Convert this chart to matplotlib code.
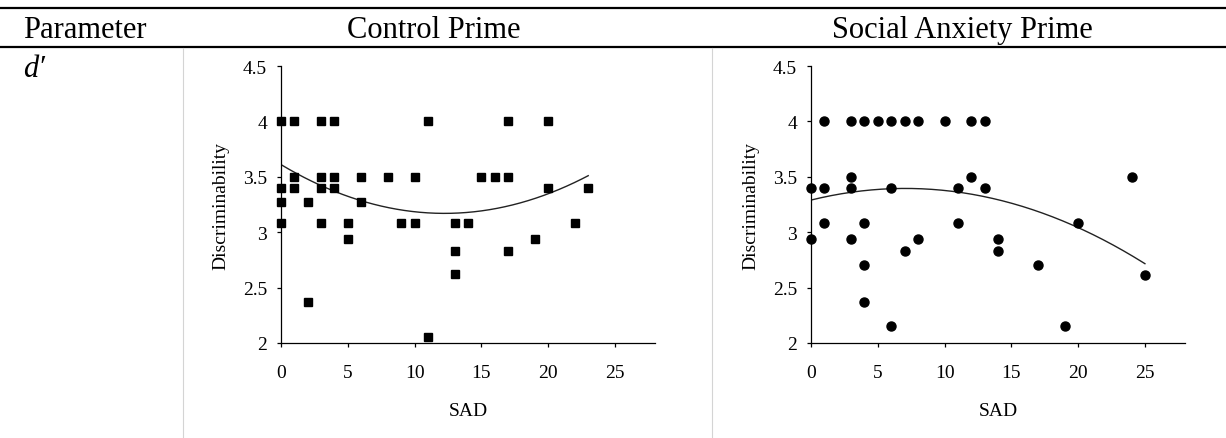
import numpy as np
import matplotlib
matplotlib.use('Agg')
import matplotlib.pyplot as plt
from matplotlib.lines import Line2D

plt.rcParams['font.family'] = ['Liberation Serif', 'DejaVu Serif']

# data (SAD score vs discriminability)
control_sad = [0, 1, 3, 4, 11, 17, 20,
               1, 3, 4, 6, 8, 10, 15, 16, 17,
               0, 1, 3, 4, 20, 23,
               0, 2, 6,
               0, 3, 5, 9, 10, 13, 14, 22,
               5, 19,
               13, 17,
               2, 13, 11]
control_d = [4, 4, 4, 4, 4, 4, 4,
             3.5, 3.5, 3.5, 3.5, 3.5, 3.5, 3.5, 3.5, 3.5,
             3.4, 3.4, 3.4, 3.4, 3.4, 3.4,
             3.27, 3.27, 3.27,
             3.08, 3.08, 3.08, 3.08, 3.08, 3.08, 3.08, 3.08,
             2.94, 2.94,
             2.83, 2.83,
             2.37, 2.62, 2.05]

social_sad = [1, 3, 4, 5, 6, 7, 8, 10, 12, 13,
              3, 12, 24,
              0, 1, 3, 6, 11, 13,
              1, 4, 11, 20,
              0, 3, 8, 14,
              7, 14,
              4, 4, 6, 17, 19,
              25]
social_d = [4, 4, 4, 4, 4, 4, 4, 4, 4, 4,
            3.5, 3.5, 3.5,
            3.4, 3.4, 3.4, 3.4, 3.4, 3.4,
            3.08, 3.08, 3.08, 3.08,
            2.94, 2.94, 2.94, 2.94,
            2.83, 2.83,
            2.70, 2.37, 2.15, 2.70, 2.15,
            2.61]

# polynomial trend lines (a*x^2 + b*x + c)
control_trend = [0.002938, -0.07192, 3.61]
social_trend = [-0.002109, 0.02976, 3.29]

headers = ['Parameter', 'Control Prime', 'Social Anxiety Prime']
row_label = 'd\u2032'

fig = plt.figure(figsize=(12.26, 4.39), dpi=100)
W, H = 1226.0, 439.0

# table rules
fig.add_artist(Line2D([0, 1], [1 - 9 / H] * 2, color='black', lw=1.6, transform=fig.transFigure))
fig.add_artist(Line2D([0, 1], [1 - 48 / H] * 2, color='black', lw=1.6, transform=fig.transFigure))
for xv in [183, 712]:
    fig.add_artist(Line2D([xv / W] * 2, [0, 1 - 49 / H], color='#d4d4d4', lw=0.8,
                          transform=fig.transFigure))

fig.text(23 / W, 1 - 38 / H, headers[0], fontsize=22, va='baseline', ha='left')
fig.text(434 / W, 1 - 38 / H, headers[1], fontsize=22, va='baseline', ha='center')
fig.text(962 / W, 1 - 38 / H, headers[2], fontsize=22, va='baseline', ha='center')
fig.text(23 / W, 1 - 77 / H, row_label, fontsize=22, style='italic', va='baseline', ha='left')


def panel(left, xs, ys, marker, ms, trend):
    ax = fig.add_axes([left / W, (H - 344) / H, 374 / W, 277 / H])
    ax.plot(xs, ys, linestyle='none', marker=marker, markersize=ms, color='black',
            clip_on=False, zorder=3)
    xx = np.linspace(0, max(xs), 200)
    ax.plot(xx, np.polyval(trend, xx), color='#222222', lw=1.0)
    ax.set_xlim(0, 28)
    ax.set_ylim(2, 4.5)
    ax.set_xticks([0, 5, 10, 15, 20, 25])
    ax.set_yticks([2, 2.5, 3, 3.5, 4, 4.5])
    ax.set_yticklabels(['2', '2.5', '3', '3.5', '4', '4.5'])
    for s in ['top', 'right']:
        ax.spines[s].set_visible(False)
    for s in ['left', 'bottom']:
        ax.spines[s].set_linewidth(0.9)
    ax.tick_params(axis='y', direction='out', length=3, width=0.9, pad=7, labelsize=14)
    ax.tick_params(axis='x', direction='out', length=3, width=0.9, pad=12, labelsize=14)
    ax.set_xlabel('SAD', fontsize=14, labelpad=15)
    ax.set_ylabel('Discriminability', fontsize=14, labelpad=10)
    ax.patch.set_alpha(0)
    return ax


panel(281, control_sad, control_d, 's', 6, control_trend)
panel(811, social_sad, social_d, 'o', 6.5, social_trend)

fig.savefig('out.png', dpi=100)
